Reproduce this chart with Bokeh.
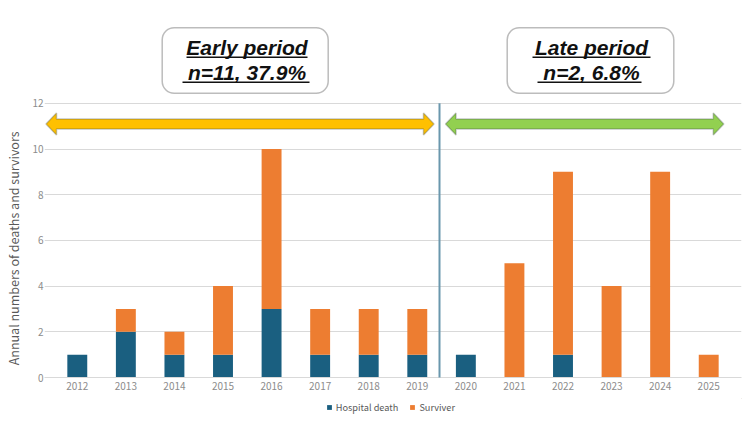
from bokeh.plotting import figure
from bokeh.layouts import column
from bokeh.models import (FactorRange, Range1d, ColumnDataSource, FixedTicker, Legend, LegendItem,
                          BoxAnnotation, PolyAnnotation, Arrow)
from bokeh.core.properties import value
from bokeh.embed import file_html
from bokeh.resources import INLINE

years = ["2012", "2013", "2014", "2015", "2016", "2017", "2018", "2019",
         "2020", "2021", "2022", "2023", "2024", "2025"]
hospital_death = [1, 2, 1, 1, 3, 1, 1, 1, 1, 0, 1, 0, 0, 0]
surviver = [0, 1, 1, 3, 7, 2, 2, 2, 0, 5, 8, 4, 9, 1]
y_ticks = [0, 2, 4, 6, 8, 10, 12]
series_names = ["Hospital death", "Surviver"]
colors = ["#1a5f80", "#ed7d31"]
y_title = "Annual numbers of deaths and survivors"
early_text = ["Early period", "n=11, 37.9%"]
late_text = ["Late period", "n=2, 6.8%"]

W = 750
MAIN_H, LEG_H = 398, 24
FRAME_LEFT, FRAME_RIGHT = 44, 9
FRAME_H = 377
PAD_SIDE = 0.175                 # factor-range padding, applied on each side
CAT_W = (W - FRAME_LEFT - FRAME_RIGHT) / (len(years) + 2 * PAD_SIDE)
PXU = 22.85
Y_END = FRAME_H / PXU


def dx(px):
    return (px - FRAME_LEFT) / CAT_W - PAD_SIDE


def dy(py):
    return (FRAME_H - py) / PXU


src = ColumnDataSource(dict(year=years, death=hospital_death, surv=surviver))

p = figure(x_range=FactorRange(*years, range_padding=PAD_SIDE, range_padding_units="absolute"),
           y_range=Range1d(0, Y_END), width=W, height=MAIN_H,
           output_backend="svg", toolbar_location=None,
           min_border_left=FRAME_LEFT, min_border_right=FRAME_RIGHT,
           min_border_top=0, min_border_bottom=MAIN_H - FRAME_H)
p.outline_line_color = None
p.background_fill_color = "white"
p.border_fill_color = "white"

rs = p.vbar_stack(["death", "surv"], x="year", width=0.41, fill_color=colors, line_color=None,
                  source=src)

p.xgrid.grid_line_color = None
p.ygrid.grid_line_color = "#d9d9d9"
p.ygrid.ticker = FixedTicker(ticks=y_ticks)
p.yaxis.ticker = FixedTicker(ticks=y_ticks)
p.yaxis.axis_line_color = None
p.yaxis.major_tick_line_color = None
p.yaxis.minor_tick_line_color = None
p.yaxis.major_tick_out = 0
p.yaxis.major_label_standoff = 1
p.yaxis.major_label_text_color = "#8c8c8c"
p.yaxis.major_label_text_font_size = "10px"
p.yaxis.major_label_text_font = "Noto Sans CJK JP"
# title padded at its end so that it sits centred on the 0-12 span, as in the reference
p.yaxis.axis_label = y_title + "\u3000" * 9 + "\u2002"
p.yaxis.axis_label_text_font = "Noto Sans CJK JP"
p.yaxis.axis_label_text_font_style = "normal"
p.yaxis.axis_label_text_font_size = "12.5px"
p.yaxis.axis_label_text_color = "#595959"
p.yaxis.axis_label_standoff = 6

p.xaxis.axis_line_color = "#d9d9d9"
p.xaxis.major_tick_line_color = None
p.xaxis.minor_tick_line_color = None
p.xaxis.major_tick_out = 0
p.xaxis.major_label_text_color = "#8c8c8c"
p.xaxis.major_label_text_font_size = "10px"
p.xaxis.major_label_text_font = "Noto Sans CJK JP"
p.xaxis.major_label_standoff = 4

# period boxes
for (l, r) in [(161.7, 327.7), (506.7, 673.3)]:
    p.add_layout(BoxAnnotation(left=dx(l), right=dx(r), top=dy(27.3), bottom=dy(92.7),
                               border_radius=12, fill_color="white", fill_alpha=1,
                               line_color="#222222", line_width=1.5, level="underlay"))

# period texts
tx = [dx(246.5), dx(246.5), dx(591), dx(591)]
ty = [dy(46.5), dy(71.5), dy(46.5), dy(71.5)]
txt = early_text + late_text
p.text(x=tx, y=ty, text=txt, text_font=value("Liberation Sans"), text_font_style="bold italic",
       text_font_size="21px", text_align="center", text_baseline="alphabetic", text_color="#111111")
# underlines
ul = [(186, 307, 56.8), (182, 309, 81.8), (532, 650, 56.8), (537, 641, 81.8)]
p.segment(x0=[dx(a) for a, b, c in ul], x1=[dx(b) for a, b, c in ul],
          y0=[dy(c) for a, b, c in ul], y1=[dy(c) for a, b, c in ul],
          line_color="#111111", line_width=1.6)


def double_arrow(x0, x1, yc, hl, hh, sh):
    xs = [x0, x0 + hl, x0 + hl, x1 - hl, x1 - hl, x1, x1 - hl, x1 - hl, x0 + hl, x0 + hl]
    ys = [yc, yc + hh, yc + sh, yc + sh, yc + hh, yc, yc - hh, yc - sh, yc - sh, yc - hh]
    return xs, ys


hl = 10.5 / CAT_W
hh = 11 / PXU
sh = 5 / PXU
yc = dy(123.5)
for x0, x1, fc in [(45.5, 433.5, "#ffc000"), (445, 723.3, "#92d050")]:
    xs, ys = double_arrow(dx(x0), dx(x1), yc, hl, hh, sh)
    p.add_layout(PolyAnnotation(xs=xs, ys=ys, fill_color=fc, fill_alpha=1,
                                line_color="#3d4a4a", line_width=1.5))

p.add_layout(Arrow(x_start=dx(439), x_end=dx(439), y_start=12, y_end=dy(393),
                   start=None, end=None, line_color="#6a97ad", line_width=2))

# legend strip below the axis labels (its frame is aligned with the main frame)
pl = figure(width=W, height=LEG_H, output_backend="svg", toolbar_location=None,
            x_axis_location=None, y_axis_location=None, min_border=0,
            x_range=Range1d(0, 1), y_range=Range1d(0, 1))
pl.outline_line_color = None
pl.xgrid.grid_line_color = None
pl.ygrid.grid_line_color = None
dummies = [pl.vbar(x=[5], top=[5], bottom=[4], width=0.1, fill_color=c, line_color=None)
           for c in colors]
legend = Legend(items=[LegendItem(label=n, renderers=[r]) for n, r in zip(series_names, dummies)],
                orientation="horizontal", location=(325.8 - FRAME_LEFT, 7.8),
                label_text_font="Noto Sans CJK JP", label_text_font_size="9.2px",
                label_text_color="#595959", glyph_width=6, glyph_height=6,
                label_height=14, label_standoff=4, spacing=11, padding=0, margin=0,
                border_line_color=None, background_fill_alpha=0)
pl.add_layout(legend)

open("out.html", "w").write(file_html(column(p, pl, spacing=0), INLINE))
